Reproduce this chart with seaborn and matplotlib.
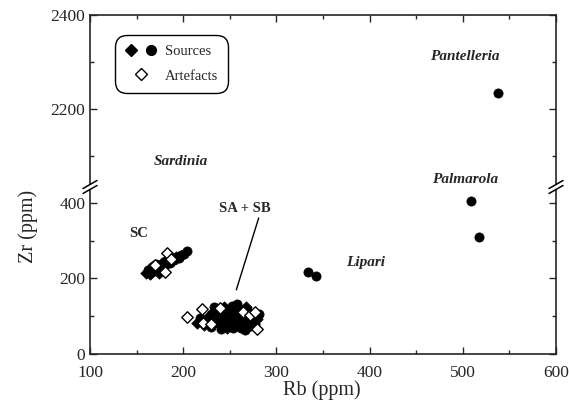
import numpy as np
import pandas as pd
import matplotlib
matplotlib.use('Agg')
import matplotlib.pyplot as plt
import seaborn as sns
from matplotlib.lines import Line2D
from matplotlib.patches import Polygon
from matplotlib.legend_handler import HandlerTuple

# ---- data ----
# sources drawn as filled diamonds (Sardinian obsidian SA/SB/SC)
src_dia_rb = [160, 164, 167, 170, 174, 177, 180, 184, 188, 192,
              215, 222, 228, 232, 236, 240, 244, 247, 251, 254, 257, 260, 263, 267, 271, 275, 279]
src_dia_zr = [215, 212, 218, 222, 215, 242, 245, 250, 255, 258,
              82, 78, 100, 110, 120, 78, 125, 70, 82, 110, 76, 88, 108, 125, 112, 98, 92]
# sources drawn as filled circles
src_cir_rb = [162, 165, 168, 171, 173, 176, 179, 182, 186, 190, 195, 198, 201, 204,
              218, 225, 230, 233, 235, 238, 241, 242, 245, 248, 250, 252, 253, 255, 256,
              258, 259, 261, 262, 264, 265, 266, 268, 270, 273, 277, 281,
              334, 342, 509, 517, 538]
src_cir_zr = [222, 228, 232, 238, 226, 235, 230, 238, 242, 248, 255, 262, 265, 272,
              95, 88, 72, 125, 85, 95, 65, 108, 90, 115, 100, 128, 68, 92, 120,
              132, 102, 118, 70, 95, 80, 64, 100, 72, 88, 80, 105,
              216, 206, 406, 310, 2235]
# artefacts (open diamonds)
art_rb = [183, 181, 170, 187, 204, 220, 221, 230, 240, 264, 272, 277, 279]
art_zr = [266, 218, 236, 252, 97, 120, 82, 80, 122, 112, 102, 112, 66]

region_names = ['Pantelleria', 'Sardinia', 'Palmarola', 'Lipari']
region_rb = [502, 197, 502, 396]
region_zr = [2311, 2088, 2051, 241]

src_d = pd.DataFrame({'Rb': src_dia_rb, 'Zr': src_dia_zr})
src_c = pd.DataFrame({'Rb': src_cir_rb, 'Zr': src_cir_zr})
art = pd.DataFrame({'Rb': art_rb, 'Zr': art_zr})

sns.set_style('ticks')
plt.rcParams['font.family'] = ['Liberation Serif', 'DejaVu Serif']
plt.rcParams['xtick.direction'] = 'in'
plt.rcParams['ytick.direction'] = 'in'

W, H = 569, 407
fig = plt.figure(figsize=(W / 100, H / 100), dpi=100)
left, right = 90, 556
y_bottom, y_break, y_top = 354, 187, 15
ax_top = fig.add_axes([left / W, (H - y_break) / H, (right - left) / W, (y_break - y_top) / H])
ax_bot = fig.add_axes([left / W, (H - y_bottom) / H, (right - left) / W, (y_bottom - y_break) / H])

for ax in (ax_top, ax_bot):
    sns.scatterplot(data=src_d, x='Rb', y='Zr', ax=ax, marker='D', color='black',
                    s=34, edgecolor='black', linewidth=0.5, legend=False)
    sns.scatterplot(data=src_c, x='Rb', y='Zr', ax=ax, marker='o', color='black',
                    s=44, edgecolor='black', linewidth=0.5, legend=False)
    sns.scatterplot(data=art, x='Rb', y='Zr', ax=ax, marker='D', color='white',
                    s=34, edgecolor='black', linewidth=1.0, legend=False)
    ax.set_xlim(100, 600)
    ax.set_xlabel('')
    ax.set_ylabel('')
    for sp in ax.spines.values():
        sp.set_linewidth(1.2)
    ax.tick_params(which='both', top=True, right=True, labelsize=12.5, width=1)
    ax.tick_params(which='major', length=5)
    ax.tick_params(which='minor', length=3)

ax_bot.set_ylim(0, 442)
ax_top.set_ylim(2034, 2400)
ax_bot.set_yticks([0, 200, 400])
ax_bot.set_yticks([100, 300], minor=True)
ax_top.set_yticks([2200, 2400])
ax_top.set_yticks([2100, 2300], minor=True)
ax_bot.set_xticks([100, 200, 300, 400, 500, 600])
ax_bot.set_xticks([150, 250, 350, 450, 550], minor=True)
ax_top.set_xticks([100, 200, 300, 400, 500, 600])
ax_top.set_xticks([150, 250, 350, 450, 550], minor=True)
ax_top.tick_params(which='both', bottom=False, labelbottom=False)
ax_bot.tick_params(which='both', top=False)
ax_bot.tick_params(axis='x', pad=8)
ax_top.spines['bottom'].set_visible(False)
ax_bot.spines['top'].set_visible(False)

# break marks on both y spines
for xp in (left, right):
    cx, cy = xp / W, (H - y_break) / H
    dx, dy = 7 / W, 4 / H
    gap = 2.5 / H
    poly = Polygon([(cx - dx, cy - dy - gap), (cx + dx, cy + dy - gap),
                    (cx + dx, cy + dy + gap), (cx - dx, cy - dy + gap)],
                   closed=True, transform=fig.transFigure, facecolor='white',
                   edgecolor='none', zorder=10)
    fig.add_artist(poly)
    for off in (-gap, gap):
        fig.add_artist(Line2D([cx - dx, cx + dx], [cy - dy + off, cy + dy + off],
                              transform=fig.transFigure, color='black', lw=1.1, zorder=11))

# region labels
for name, rb, zr in zip(region_names, region_rb, region_zr):
    ax = ax_bot if zr < 1000 else ax_top
    ax.text(rb, zr, name, fontsize=11, fontweight='bold', fontstyle='italic',
            ha='center', va='center')
ax_bot.text(152, 320, 'SC', fontsize=10.5, fontweight='bold', ha='center', va='center')
ax_bot.text(266, 386, 'SA + SB', fontsize=10.5, fontweight='bold', ha='center', va='center')
ax_bot.plot([281, 257], [360, 170], color='black', lw=1)

fig.text(322 / W, 1 - 390 / H, 'Rb (ppm)', fontsize=14.5, ha='center', va='center')
fig.text(28 / W, 1 - 226 / H, 'Zr (ppm)', fontsize=14.5, ha='center', va='center', rotation=90)

# legend
h_d = Line2D([], [], marker='D', color='black', ls='none', markersize=6)
h_c = Line2D([], [], marker='o', color='black', ls='none', markersize=7)
h_a = Line2D([], [], marker='D', markerfacecolor='white', markeredgecolor='black',
             ls='none', markersize=6, markeredgewidth=1.0)
leg = ax_top.legend([(h_d, h_c), h_a], ['Sources', 'Artefacts'],
                    handler_map={tuple: HandlerTuple(ndivide=None, pad=0.6)},
                    loc='upper left', bbox_to_anchor=(115 / W, 1 - 35 / H),
                    bbox_transform=fig.transFigure, fontsize=10.5, frameon=True,
                    fancybox=True, edgecolor='black', framealpha=1, borderaxespad=0,
                    handlelength=2.2, handletextpad=0.5, borderpad=0.7, labelspacing=0.75)
leg.get_frame().set_linewidth(1.0)
leg.get_frame().set_boxstyle('round', pad=0, rounding_size=0.8)

fig.savefig('out.png', dpi=100)
